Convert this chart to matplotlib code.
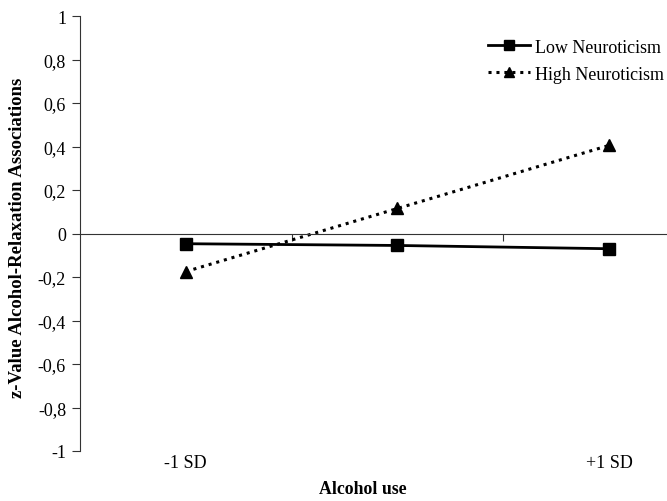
import matplotlib.pyplot as plt

plt.rcParams['font.family'] = ['Liberation Serif', 'DejaVu Serif']

categories = ['-1 SD', '', '+1 SD']
low_neuroticism = [-0.047, -0.055, -0.07]
high_neuroticism = [-0.175, 0.115, 0.405]
y_ticks = [-1, -0.8, -0.6, -0.4, -0.2, 0, 0.2, 0.4, 0.6, 0.8, 1]


def fmt(v):
    # comma decimal separator like the original
    s = ('%g' % round(v, 1)).replace('.', ',')
    return '0' if s in ('-0', '0') else s


fig = plt.figure(figsize=(6.67, 5.02), dpi=100)
ax = fig.add_axes([80 / 667, 50 / 502, 587 / 667, 435 / 502])

x = [1, 2, 3]
ax.plot(x, low_neuroticism, color='black', lw=2, marker='s', ms=8,
        label='Low Neuroticism')
ax.plot(x, high_neuroticism, color='black', lw=2.2, ls=(0, (1, 1.6)), marker='^',
        ms=8, label='High Neuroticism')

ax.set_xlim(0.5, 3 + (667 - 609) / 211.5)
ax.set_ylim(-1, 1)

ax.spines['top'].set_visible(False)
ax.spines['right'].set_visible(False)
ax.spines['bottom'].set_position(('data', 0))
ax.spines['bottom'].set_color('#333333')
ax.spines['left'].set_color('#333333')

ax.set_yticks(y_ticks)
ax.set_yticklabels([fmt(v) for v in y_ticks], fontsize=13)
ax.tick_params(axis='y', direction='out', length=6, pad=4, color='#333333')

ax.set_xticks([1.5, 2.5])
ax.set_xticklabels([])
ax.tick_params(axis='x', direction='out', length=5, color='#333333')

for xi, lab in zip(x, categories):
    ax.text(xi, -0.027, lab, transform=ax.get_xaxis_transform(),
            ha='center', va='center', fontsize=13)

fig.text(363 / 667, 1 - 490 / 502, 'Alcohol use', ha='center', va='center',
         fontsize=12.8, fontweight='bold')
fig.text(18 / 667, 1 - 238 / 502, 'z-Value Alcohol-Relaxation Associations', rotation=90,
         ha='center', va='center', fontsize=13.5, fontweight='bold')

ax.legend(loc='upper right', bbox_to_anchor=(1.022, 0.985), frameon=False, fontsize=13,
          handlelength=2.33, handletextpad=0.25, labelspacing=0.55, markerscale=0.85)

fig.savefig('out.png', dpi=100)
